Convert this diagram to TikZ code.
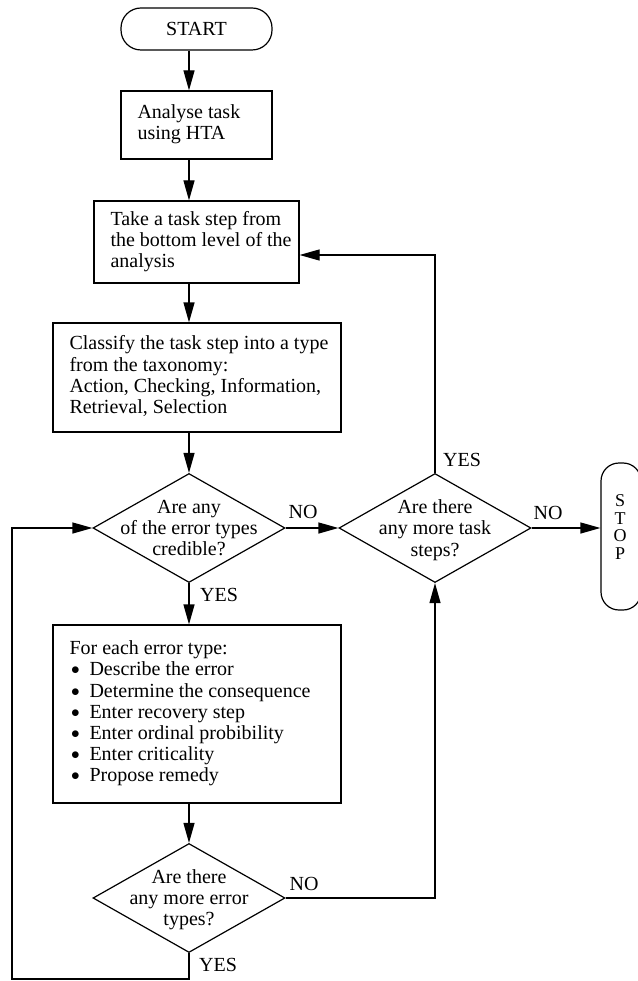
\documentclass[tikz,border=0pt]{standalone}
\usepackage{fontspec}
\setmainfont{Liberation Serif}
\usetikzlibrary{arrows.meta,shapes.geometric,calc}
% left-aligned block of manually broken lines
\newcommand\flowlines[1]{\begin{tabular}{@{}l@{}}#1\end{tabular}}
% bullet item inside a process box
\newcommand\erritem{\makebox[12pt]{\raisebox{1pt}{\fontsize{17}{17}\selectfont$\bullet$}}\hspace{8pt}}
\begin{document}
\begin{tikzpicture}[x=1pt,y=-1pt,
  every node/.style={font=\fontsize{20}{21.2}\selectfont},
  flow/.style={line width=1.2pt},
  arr/.style={flow,-{Triangle[length=20pt,width=11pt]}},
  procbox/.style={draw,line width=1.2pt,rectangle,inner sep=0pt},
  terminal/.style={draw,line width=1.2pt,rectangle,rounded corners=20pt,inner sep=0pt},
  decision/.style={draw,line width=1.2pt,diamond,inner sep=0pt,minimum width=192pt,minimum height=109pt},
  lbl/.style={inner sep=0pt}
]
\useasboundingbox (0,0) rectangle (637,981);

% terminals and process boxes
\node[terminal, minimum width=151pt, minimum height=42pt] (start) at (196.5,29) {START};
\node[procbox, minimum width=151pt, minimum height=68pt] (hta) at (196.5,125)
  {\makebox[118pt][l]{\flowlines{Analyse task\\using HTA}}};
\node[procbox, minimum width=205pt, minimum height=82pt] (take) at (196.5,242)
  {\makebox[172pt][l]{\flowlines{Take a task step from\\the bottom level of the\\analysis}}};
\node[procbox, minimum width=288pt, minimum height=109pt] (classify) at (197,377.5)
  {\makebox[255pt][l]{\flowlines{Classify the task step into a type\\from the taxonomy:\\Action, Checking, Information,\\Retrieval, Selection}}};

% decisions
\node[decision] (credible) at (189,528) {};
\node[lbl, align=center] (credibletxt) at (credible.center) {Are any\\of the error types\\credible?};
\node[decision] (moresteps) at (435,528) {};
\node[lbl, align=center] (morestepstxt) at (435,530) {Are there\\any more task\\steps?};

% stop terminal, standing upright at the right edge
\node[terminal, rounded corners=18pt, minimum width=40pt, minimum height=147pt] (stop) at (621,536.5) {};
\node[lbl, align=center, font=\fontsize{18}{17.5}\selectfont] (stoptxt) at (620,527) {S\\T\\O\\P};

\node[procbox, minimum width=288pt, minimum height=178pt] (errors) at (197,714)
  {\makebox[255pt][l]{\flowlines{For each error type:\\
    \erritem Describe the error\\
    \erritem Determine the consequence\\
    \erritem Enter recovery step\\
    \erritem Enter ordinal probibility\\
    \erritem Enter criticality\\
    \erritem Propose remedy}}};

\node[decision] (moreerrors) at (189,898) {};
\node[lbl, align=center] (moreerrorstxt) at (189,900) {Are there\\any more error\\types?};

% main flow
\draw[arr] (start.south -| credible.north) -- (hta.north -| credible.north);
\draw[arr] (hta.south -| credible.north) -- (take.north -| credible.north);
\draw[arr] (take.south -| credible.north) -- (classify.north -| credible.north);
\draw[arr] (classify.south -| credible.north) -- (credible.north);
\draw[arr] (credible.east) -- (moresteps.west);
\draw[arr] (moresteps.east) -- (stop.west |- moresteps.east);
\draw[arr] (moresteps.north) |- ($(take.east)+(0,13)$);
\draw[arr] (credible.south) -- (errors.north -| credible.south);
\draw[arr] (errors.south -| credible.north) -- (moreerrors.north);
\draw[arr] (moreerrors.east) -| (moresteps.south);
\coordinate (loopcorner) at (12,979);
\draw[arr] (moreerrors.south) |- (loopcorner) |- (credible.west);

% branch labels
\node[lbl] (no1) at (303,512) {NO};
\node[lbl] (no2) at (548,513) {NO};
\node[lbl] (yes1) at (462,460) {YES};
\node[lbl] (yes2) at (219,595) {YES};
\node[lbl] (no3) at (304,884) {NO};
\node[lbl] (yes3) at (218,965) {YES};
\end{tikzpicture}
\end{document}
